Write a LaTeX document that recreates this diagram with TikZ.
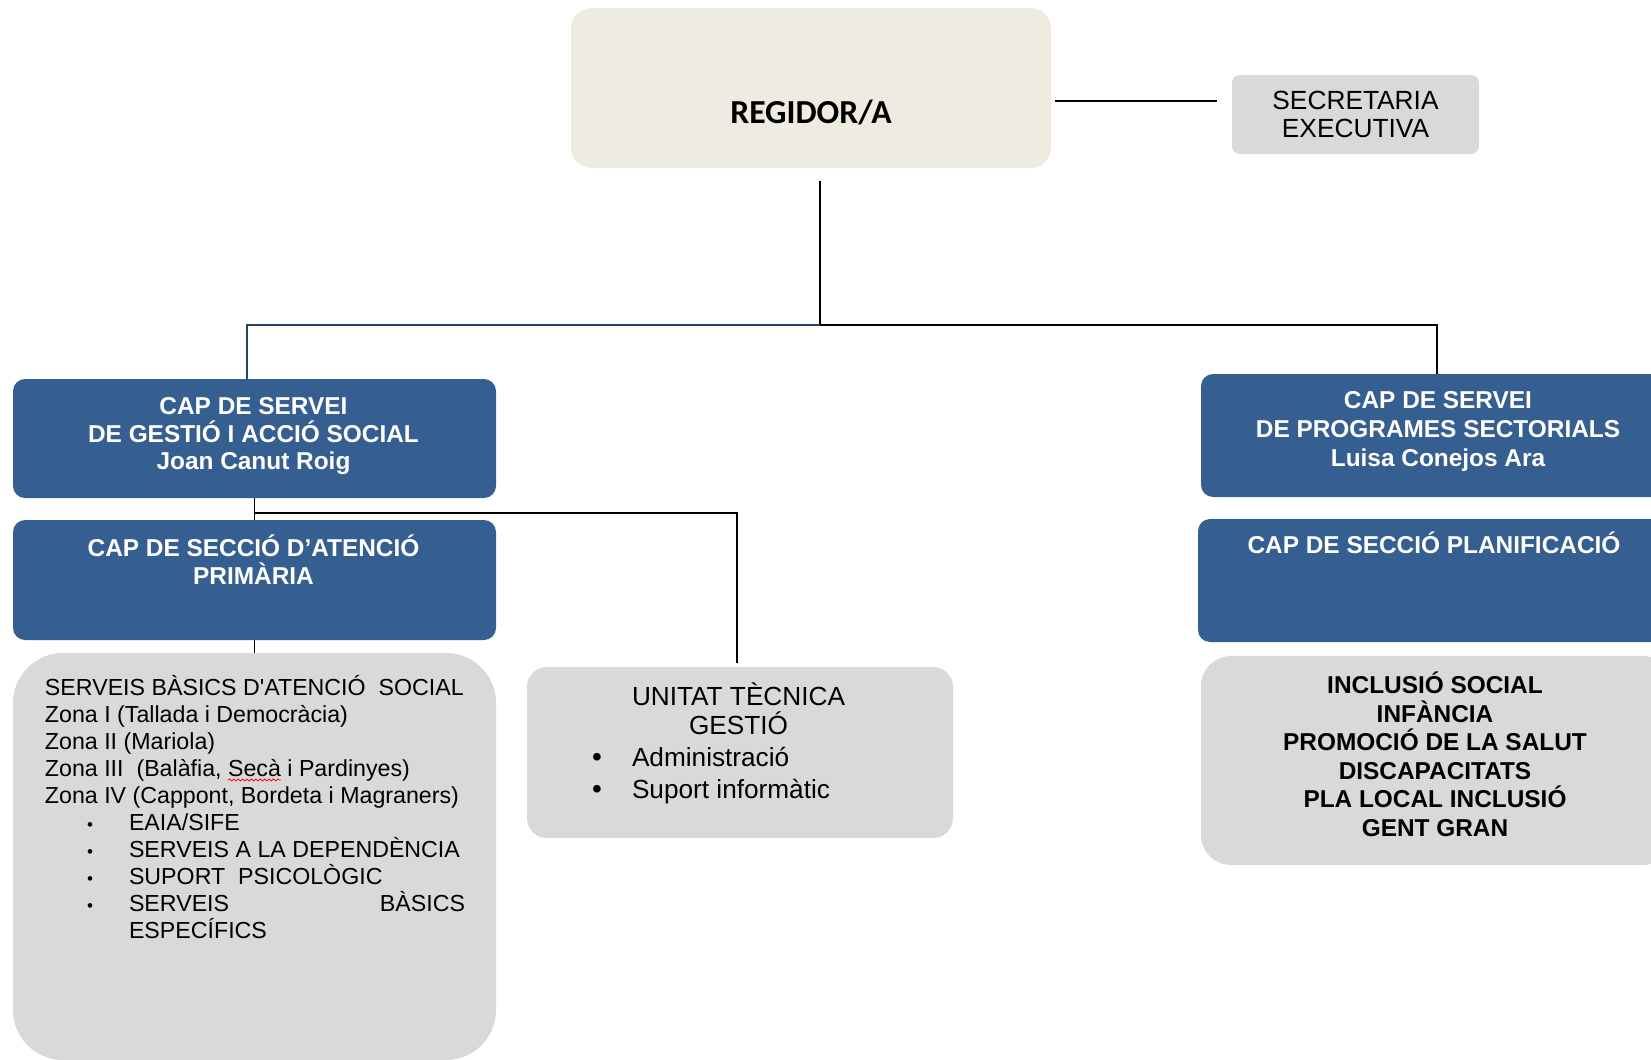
\documentclass[tikz,border=0pt]{standalone}
\usepackage{fontspec}
\setmainfont{Liberation Sans}
\newfontfamily\calibri{Carlito}
\usetikzlibrary{fit,decorations.pathmorphing}
\definecolor{regbeige}{RGB}{238,236,225}
\definecolor{boxgray}{RGB}{217,217,217}
\definecolor{capblue}{RGB}{54,95,145}
\definecolor{navyline}{RGB}{40,66,104}
\begin{document}
\begin{tikzpicture}[x=0.5pt,y=-0.5pt,
  boxbase/.style={inner sep=0pt, outer sep=0pt, draw=none},
  beigebox/.style={boxbase, fill=regbeige, rounded corners=10pt},
  graybox/.style={boxbase, fill=boxgray, rounded corners=#1},
  bluebox/.style={boxbase, fill=capblue, rounded corners=6pt},
  conn/.style={line width=0.75pt, draw=black},
  txt/.style={inner sep=0pt, outer sep=0pt, anchor=base},
  ltxt/.style={txt, anchor=base west},
  bluetxt/.style={txt, text=white, font=\fontsize{12.2}{14}\selectfont\bfseries},
  blacktxt/.style={txt, text=black, font=\fontsize{12.2}{14}\selectfont\bfseries},
  utgtxt/.style={text=black, font=\fontsize{13.1}{15}\selectfont},
  sbstxt/.style={text=black, font=\fontsize{11.6}{14}\selectfont},
  smallbullet/.style={txt, text=black, font=\fontsize{8.5}{10}\selectfont},
  bigbullet/.style={txt, text=black, font=\fontsize{14}{15}\selectfont}
]
\useasboundingbox (0,0) rectangle (1651,1060);

% ---------- boxes ----------
\node[beigebox, fit={(571,8) (1051,168)}] (reg) {};
\node[graybox=4pt, fit={(1232,75) (1479,154)}] (sec) {};
\node[bluebox, fit={(13,379) (496,498)}] (cs1) {};
\node[bluebox, fit={(13,520) (496,640)}] (cs2) {};
\node[graybox=25pt, fit={(13,653) (496,1060)}] (sbs) {};
\node[graybox=10pt, fit={(527,667) (953,838)}] (utg) {};
\node[bluebox, fit={(1201,374) (1673,497)}] (cpr) {};
\node[bluebox, fit={(1198,519) (1670,642)}] (cpl) {};
\node[graybox=15pt, fit={(1201,656) (1673,865)}] (inc) {};

% ---------- connectors ----------
\coordinate (hub) at (820,325);
\draw[conn] ([shift={(4,13)}]reg.east) -- ([shift={(-15,-13.5)}]sec.west);
\draw[conn] ([shift={(9,13)}]reg.south) -- (hub);
\draw[conn, draw=navyline] (hub) -| ([shift={(-7.5,0)}]cs1.north);
\draw[conn] (hub) -| (cpr.north);
\draw[conn] (cs1.south) -- (cs2.north);
\draw[conn] ([yshift=-7.5pt]cs1.south) -| ([shift={(-3,-4)}]utg.north);
\draw[conn] (cs2.south) -- (sbs.north);

% ---------- texts ----------
\node[txt, font=\calibri\bfseries\fontsize{16.8}{20}\selectfont] (regt) at (811,123) {REGIDOR/A};

\node[txt, font=\fontsize{13.15}{15}\selectfont] (sect1) at (1355.5,109) {SECRETARIA};
\node[txt, font=\fontsize{13.15}{15}\selectfont] (sect2) at (1355.5,137) {EXECUTIVA};

\node[bluetxt] (cs1a) at (253.5,414) {CAP DE SERVEI};
\node[bluetxt] (cs1b) at (253.5,442) {DE GESTIÓ I ACCIÓ SOCIAL};
\node[bluetxt] (cs1c) at (253.5,469) {Joan Canut Roig};

\node[bluetxt] (cs2a) at (253.5,556) {CAP DE SECCIÓ D’ATENCIÓ};
\node[bluetxt] (cs2b) at (253.5,584) {PRIMÀRIA};

\node[bluetxt] (cpra) at (1438,408) {CAP DE SERVEI};
\node[bluetxt] (cprb) at (1438,437) {DE PROGRAMES SECTORIALS};
\node[bluetxt] (cprc) at (1438,466) {Luisa Conejos Ara};

\node[bluetxt] (cpla) at (1434,553) {CAP DE SECCIÓ PLANIFICACIÓ};

\node[blacktxt] (inc1) at (1435,693) {INCLUSIÓ SOCIAL};
\node[blacktxt] (inc2) at (1435,722) {INFÀNCIA};
\node[blacktxt] (inc3) at (1435,750) {PROMOCIÓ DE LA SALUT};
\node[blacktxt] (inc4) at (1435,779) {DISCAPACITATS};
\node[blacktxt] (inc5) at (1435,807) {PLA LOCAL INCLUSIÓ};
\node[blacktxt] (inc6) at (1435,836) {GENT GRAN};

\node[txt, utgtxt] (utg1) at (738.5,705) {UNITAT TÈCNICA};
\node[txt, utgtxt] (utg2) at (738.5,734) {GESTIÓ};
\node[bigbullet] (utgb1) at (597,766) {•};
\node[bigbullet] (utgb2) at (597,798) {•};
\node[ltxt, utgtxt] (utg3) at (632,766) {Administració};
\node[ltxt, utgtxt] (utg4) at (632,798) {Suport informàtic};

\node[ltxt, sbstxt] (sbs1) at (45,695) {SERVEIS BÀSICS D\textquotesingle ATENCIÓ\ \ SOCIAL};
\node[ltxt, sbstxt] (sbs2) at (45,722) {Zona I (Tallada i Democràcia)};
\node[ltxt, sbstxt] (sbs3) at (45,749) {Zona II (Mariola)};
\node[ltxt, sbstxt] (sbs4a) at (45,776) {Zona III\ \ (Balàfia,\ \kern0pt};
\node[txt, anchor=base west, sbstxt] (sbs4b) at (sbs4a.base east) {Secà};
\node[txt, anchor=base west, sbstxt] (sbs4c) at (sbs4b.base east) {\ i Pardinyes)};
\node[ltxt, sbstxt] (sbs5) at (45,803) {Zona IV (Cappont, Bordeta i Magraners)};
\node[smallbullet] (sbsb1) at (90,830) {•};
\node[smallbullet] (sbsb2) at (90,857) {•};
\node[smallbullet] (sbsb3) at (90,884) {•};
\node[smallbullet] (sbsb4) at (90,911) {•};
\node[ltxt, sbstxt] (sbs6) at (129,830) {EAIA/SIFE};
\node[ltxt, sbstxt] (sbs7) at (129,857) {SERVEIS A LA DEPENDÈNCIA};
\node[ltxt, sbstxt] (sbs8) at (129,884) {SUPORT\ \ PSICOLÒGIC};
\node[ltxt, sbstxt] (sbs9) at (129,911) {\makebox[168pt][s]{SERVEIS BÀSICS}};
\node[ltxt, sbstxt] (sbs10) at (129,938) {ESPECÍFICS};

% spell-check squiggle
\draw[red, line width=0.4pt, decorate,
      decoration={snake, amplitude=0.5pt, segment length=2.2pt}]
  ([yshift=-2pt]sbs4b.base west) -- ([yshift=-2pt]sbs4b.base east);
\end{tikzpicture}
\end{document}
